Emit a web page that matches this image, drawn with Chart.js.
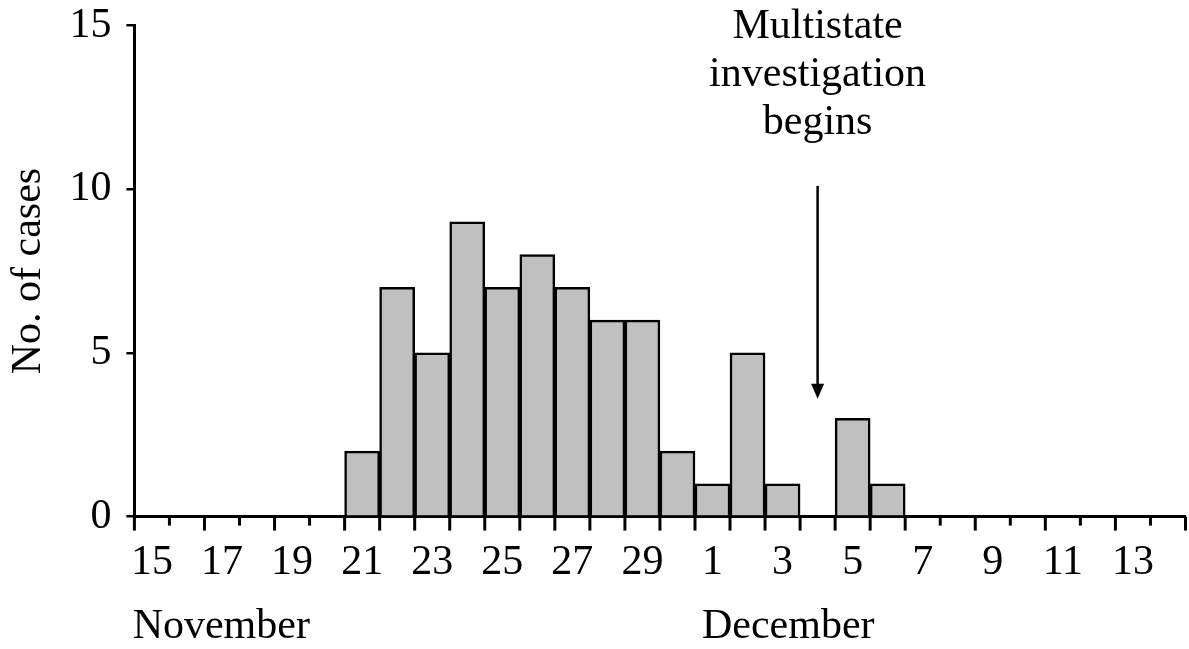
<!DOCTYPE html>
<html>
<head>
<meta charset="utf-8">
<script src="https://cdn.jsdelivr.net/npm/chart.js@4/dist/chart.umd.min.js"></script>
<style>
  html, body { margin: 0; padding: 0; background: #fff; }
  #wrap { width: 1189px; height: 649px; }
</style>
</head>
<body>
<div id="wrap"><canvas id="c" width="1189" height="649"></canvas></div>
<script>
// Onset day (Nov 15 – Dec 14)
const days = ["15","16","17","18","19","20","21","22","23","24","25","26","27","28","29","30",
              "1","2","3","4","5","6","7","8","9","10","11","12","13","14"];
const cases = [0,0,0,0,0,0,2,7,5,9,7,8,7,6,6,2,
               1,5,1,0,3,1,0,0,0,0,0,0,0,0];
const months = ["November", "December"];
const monthStart = [-0.05, 16.2];   // day index where each month name starts
const yTicks = [0, 5, 10, 15];
const noteLines = ["Multistate", "investigation", "begins"];
const noteDay = 19;          // Dec 4
const arrowFrom = 10.1, arrowTo = 3.6;

const FONT = "'Liberation Serif', 'Times New Roman', serif";
const FS = 42;

// tick marks under the x axis + month names + annotation arrow
const extras = {
  id: "extras",
  afterDraw(chart) {
    const { ctx, scales: { x, y } } = chart;
    const band = x.width / days.length;
    ctx.save();
    ctx.strokeStyle = "#000";
    ctx.lineWidth = 3;
    const base = y.getPixelForValue(0);
    for (let i = 0; i <= days.length; i++) {
      const px = x.left + i * band;
      const long = i % 2 === 0 || cases[i - 1] || cases[i];
      ctx.beginPath();
      ctx.moveTo(px, base);
      ctx.lineTo(px, base + (long ? 14 : 9));
      ctx.stroke();
    }

    ctx.fillStyle = "#000";
    ctx.font = `${FS}px ${FONT}`;
    ctx.textBaseline = "alphabetic";
    ctx.textAlign = "left";
    months.forEach((m, k) => {
      ctx.fillText(m, x.left + monthStart[k] * band, 638);
    });

    // arrow
    const ax = x.getPixelForValue(noteDay);
    const y1 = y.getPixelForValue(arrowFrom), y2 = y.getPixelForValue(arrowTo);
    ctx.lineWidth = 2.5;
    ctx.beginPath();
    ctx.moveTo(ax, y1);
    ctx.lineTo(ax, y2 - 12);
    ctx.stroke();
    ctx.beginPath();
    ctx.moveTo(ax - 6.5, y2 - 15);
    ctx.lineTo(ax + 6.5, y2 - 15);
    ctx.lineTo(ax, y2);
    ctx.closePath();
    ctx.fill();

    ctx.textAlign = "center";
    noteLines.forEach((t, k) => {
      ctx.fillText(t, ax, y1 - 52 - (noteLines.length - 1 - k) * 48);
    });
    ctx.restore();
  }
};

new Chart(document.getElementById("c"), {
  type: "bar",
  data: {
    labels: days,
    datasets: [{
      data: cases.map(v => v || null),
      backgroundColor: "#c0c0c0",
      borderColor: "#000",
      borderWidth: 2.5,
      barPercentage: 1,
      categoryPercentage: 1
    }]
  },
  options: {
    responsive: false,
    animation: false,
    layout: { padding: { top: 12, right: 2, bottom: 40, left: 0 } },
    plugins: { legend: { display: false }, tooltip: { enabled: false } },
    scales: {
      x: {
        grid: { display: false, drawTicks: false },
        border: { display: true, color: "#000", width: 3 },
        ticks: {
          autoSkip: false, maxRotation: 0, minRotation: 0,
          color: "#000", padding: 21,
          font: { size: FS, family: FONT },
          callback: (v, i) => (i % 2 === 0 && i < days.length - 1 ? days[i] : "")
        }
      },
      y: {
        min: 0, max: 15,
        afterBuildTicks: axis => { axis.ticks = yTicks.map(v => ({ value: v })); },
        grid: { display: true, drawOnChartArea: false, drawTicks: true, tickLength: 8, color: "#000", lineWidth: 2.5 },
        border: { display: true, color: "#000", width: 3 },
        ticks: { color: "#000", padding: 15, font: { size: FS, family: FONT, lineHeight: 0.5 } },
        title: {
          display: true, text: "No. of cases", color: "#000",
          font: { size: FS, family: FONT },
          padding: { top: 4, bottom: 0 }
        }
      }
    }
  },
  plugins: [extras]
});
</script>
</body>
</html>
